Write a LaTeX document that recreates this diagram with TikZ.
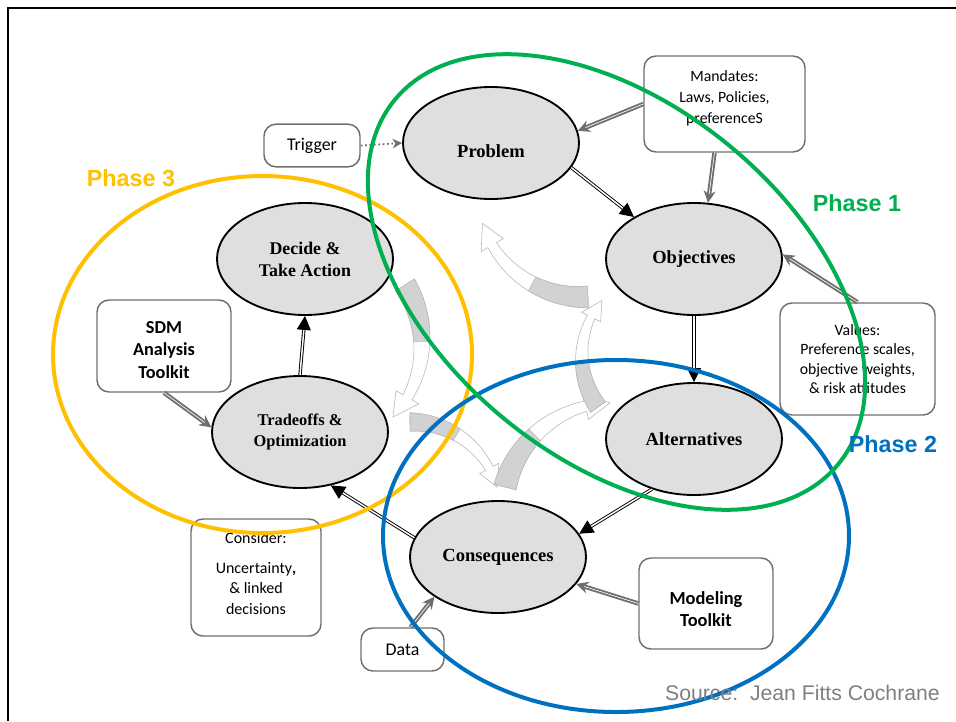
\documentclass[tikz,border=0pt]{standalone}
\usepackage{fontspec}
\setmainfont{Carlito}
\newfontfamily\serifbold{Liberation Serif}
\newfontfamily\arialfont{Liberation Sans}
\usetikzlibrary{shapes.geometric, arrows.meta}

\definecolor{phaseone}{HTML}{00B050}
\definecolor{phasetwo}{HTML}{0070C0}
\definecolor{phasethree}{HTML}{FFC000}
\definecolor{boxgray}{HTML}{6E6E6E}
\definecolor{srcgray}{HTML}{7F7F7F}

\tikzset{
  stage/.style={ellipse, draw, line width=1.4pt, fill=gray!25, minimum width=132pt,
    minimum height=84pt, inner sep=0pt, align=center,
    font=\serifbold\bfseries\fontsize{13.9}{16.5}\selectfont},
  infobox/.style={draw=boxgray, line width=1.1pt, rounded corners=9pt, align=center, inner sep=0pt},
  flow/.style={double, double distance=1.1pt, line width=0.7pt, -{Triangle[length=10.5pt,width=10.5pt]}},
  feed/.style={draw=boxgray, double=white, double distance=0.5pt, line width=1.4pt,
    -{Stealth[length=9pt,width=9pt,inset=3pt]}},
  phase/.style={line width=3pt},
  phaselabel/.style={font=\arialfont\bfseries\fontsize{17.5}{20}\selectfont},
  turnarrow/.pic={
    % outlined shaft and head
    \filldraw[fill=white, draw=gray!55, line width=0.45pt]
      plot[domain=-127.4:-65.5, samples=25, variable=\t]
        ({65+(112+(-65.5-(\t))*0.0969)*cos(\t)}, {85+(112+(-65.5-(\t))*0.0969)*sin(\t)})
      -- ({65+120*cos(-65.5)}, {85+120*sin(-65.5)})
      -- (130,0)
      -- ({65+94*cos(-65.5)}, {85+94*sin(-65.5)})
      -- plot[domain=-65.5:-127.4, samples=25, variable=\t]
        ({65+(102-(-65.5-(\t))*0.0969)*cos(\t)}, {85+(102-(-65.5-(\t))*0.0969)*sin(\t)})
      -- cycle;
    % shaded tail
    \filldraw[fill=gray!35, draw=gray!55, line width=0.45pt]
      plot[domain=-127.4:-96, samples=15, variable=\t]
        ({65+(112+(-65.5-(\t))*0.0969)*cos(\t)}, {85+(112+(-65.5-(\t))*0.0969)*sin(\t)})
      -- plot[domain=-96:-127.4, samples=15, variable=\t]
        ({65+(102-(-65.5-(\t))*0.0969)*cos(\t)}, {85+(102-(-65.5-(\t))*0.0969)*sin(\t)})
      -- cycle;
  }
}

\begin{document}
\begin{tikzpicture}[x=0.75pt, y=-0.75pt]
\useasboundingbox (0,0) rectangle (956,721);

% frame
\draw[line width=2.2pt] (8,721) -- (8,8) -- (956,8);

% cycle arrows in the middle
\foreach \tx/\ty/\ang/\sc in {405/285/-95.2/1.02, 410/422/-36.8/0.835, 505/487/38.7/1.035,
  598/407/87.9/0.82, 588/297/145.1/0.99}
  \pic[rotate=\ang, scale=\sc] at (\tx,\ty) {turnarrow};

% stages
\node[stage] (prob) at (491,143) {\smash{\raisebox{-10.5pt}{Problem}}};
\node[stage] (obj) at (694,259) {Objectives};
\node[stage] (alt) at (694,439) {Alternatives};
\node[stage] (cons) at (498,557) {Consequences};
\node[stage, font=\serifbold\bfseries\fontsize{12.3}{15.8}\selectfont] (trade) at (300,432) {Tradeoffs \&\\Optimization};
\node[stage, font=\serifbold\bfseries\fontsize{13.4}{16.5}\selectfont] (dec) at (305,259) {Decide \&\\Take Action};

% boxes
\node[infobox, minimum width=72pt, minimum height=32pt, font=\fontsize{13.4}{16}\selectfont] (trig) at (312,145.5) {Trigger};
\node[infobox, minimum width=120.75pt, minimum height=72pt, font=\fontsize{11.8}{15.4}\selectfont] (mand) at (724.5,104) {Mandates:\\Laws, Policies,\\preferenceS\\[-5pt]\mbox{}};
\node[infobox, minimum width=116.25pt, minimum height=84pt, font=\fontsize{11.8}{14.5}\selectfont] (vals) at (857.5,359) {Values:\\Preference scales,\\objective weights,\\\& risk attitudes};
\node[infobox, minimum width=100.5pt, minimum height=69pt, font=\bfseries\fontsize{13.7}{16.9}\selectfont] (sdm) at (164,346) {\mbox{}\\[-2pt]SDM\\Analysis\\Toolkit};
\node[infobox, minimum width=97.5pt, minimum height=87.75pt, font=\fontsize{12}{15.5}\selectfont] (cnsd) at (256,577.5) {Consider:\\[7pt]Uncertainty\textbf{,}\\\& linked\\decisions\\[-9pt]\mbox{}};
\node[infobox, minimum width=62.25pt, minimum height=32.25pt, font=\fontsize{13.4}{16}\selectfont] (data) at (402.5,649.5) {Data};
\node[infobox, minimum width=100.5pt, minimum height=68.25pt, font=\bfseries\fontsize{13.8}{16.5}\selectfont] (model) at (706,603.5) {\mbox{}\\[1pt]Modeling\\Toolkit};

% main flow
\draw[flow] (prob.-17) -- (obj.145);
\draw[flow] (obj.south) -- (alt.north);
\draw[flow] (alt.-130) -- (cons.16);
\draw[flow] (cons.167) -- (trade.-60);
\draw[flow] (trade.north) -- (dec.south);

% inputs
\draw[boxgray, dotted, line width=1.3pt, -{Stealth[length=7pt,width=7pt,inset=2pt]}] (trig.east) -- (prob.west);
\draw[feed] (mand.west) -- (prob.8);
\draw[feed] ([xshift=-7.5pt]mand.south) -- (obj.76);
\draw[feed] (vals.north) -- (obj.3);
\draw[feed] (sdm.south) -- (trade.177);
\draw[feed] ([xshift=6pt]data.north) -- (cons.-148);
\draw[feed] (model.west) -- (cons.-19);

% phases
\draw[phase, phasethree] (262.5,354.5) ellipse [x radius=209.5, y radius=178.5];
\draw[phase, phasetwo] (616,536) ellipse [x radius=233, y radius=176];
\draw[phase, phaseone, rotate around={-39.4:(616.5,282)}] (616.5,282) ellipse [x radius=287, y radius=177];

\node[phaselabel, text=phasethree] (ph3) at (131,178) {Phase 3};
\node[phaselabel, text=phaseone] (ph1) at (857,203) {Phase 1};
\node[phaselabel, text=phasetwo] (ph2) at (893,444) {Phase 2};

\node[anchor=east, inner sep=0pt, text=srcgray, font=\arialfont\fontsize{15.9}{18}\selectfont] (src) at (940,693) {Source:\ \ Jean Fitts Cochrane};
\end{tikzpicture}
\end{document}
